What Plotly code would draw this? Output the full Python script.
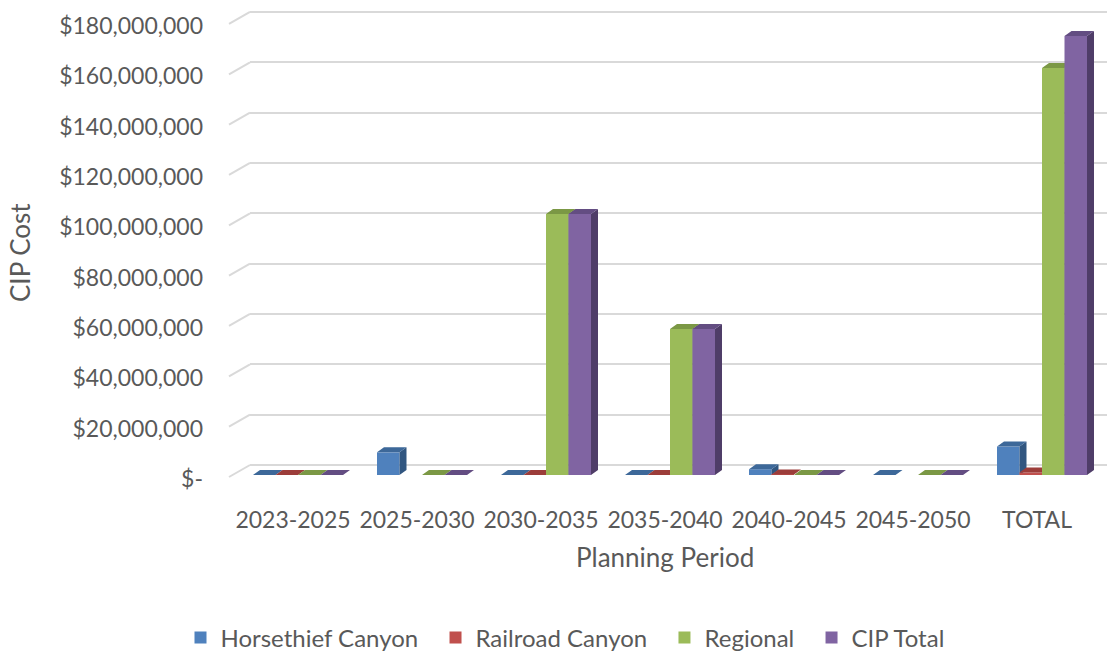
import plotly.graph_objects as go

# ---------------- data ----------------
categories = ["2023-2025", "2025-2030", "2030-2035", "2035-2040", "2040-2045", "2045-2050", "TOTAL"]
horsethief = [0, 9_000_000, 0, 0, 2_300_000, 0, 11_300_000]
railroad = [0, None, 0, 0, 200_000, None, 1_000_000]
regional = [0, 0, 103_700_000, 58_000_000, 0, 0, 161_700_000]
cip_total = [0, 0, 103_700_000, 58_000_000, 0, 0, 174_400_000]
series_names = ["Horsethief Canyon", "Railroad Canyon", "Regional", "CIP Total"]
y_ticks = [0, 20_000_000, 40_000_000, 60_000_000, 80_000_000, 100_000_000,
           120_000_000, 140_000_000, 160_000_000, 180_000_000]

# ---------------- styling / geometry ----------------
front_colors = ["#4F81BD", "#C0504D", "#9BBB59", "#8064A2"]
top_colors = ["#3D6899", "#9C3D3A", "#7B9845", "#634D82"]
side_colors = ["#315680", "#7F312F", "#647C37", "#4F3D68"]
text_color = "#595959"
grid_color = "#D9D9D9"
FONT = "Lato"

W, H = 1107, 653
L, R, T, B = 250, 0, 0, 153
plot_w = W - L - R
plot_h = H - T - B

px_per_cat = 124.0
first_cat_px = 293.0  # pixel center of first category label
x_range = [-(first_cat_px - L) / px_per_cat, (W - R - first_cat_px) / px_per_cat]

px_per_dollar = 2.517 / 1_000_000
bar_base_px = 475.0   # front of bars
grid_base_px = 465.0  # back wall
label_base_px = 479.0  # front labels


def rng(base_px):
    return [-(plot_h - base_px) / px_per_dollar, base_px / px_per_dollar]


bar_range = rng(bar_base_px)
grid_range = rng(grid_base_px)
label_range = rng(label_base_px)

bar_w = 22.5 / px_per_cat
group_shift = 5.0 / px_per_cat
dx = 7.0 / px_per_cat
dy = 5.0 / px_per_dollar

fig = go.Figure()

# empty traces so the grid axis and label axis exist as subplots
fig.add_trace(go.Scatter(x=[], y=[], xaxis="x", yaxis="y", showlegend=False, hoverinfo="skip"))
fig.add_trace(go.Scatter(x=[], y=[], xaxis="x", yaxis="y2", showlegend=False, hoverinfo="skip"))

all_series = [horsethief, railroad, regional, cip_total]
for j, vals in enumerate(all_series):
    yax = "y%d" % (j + 3)
    off = group_shift + (j - 2) * bar_w
    xs = list(range(len(categories)))
    legend_name = series_names[j] + ("\u00a0\u00a0" if j < len(all_series) - 1 else "")
    fig.add_trace(go.Bar(
        x=xs, y=vals, name=legend_name, width=bar_w, offset=off,
        marker=dict(color=front_colors[j], line=dict(width=0)),
        xaxis="x", yaxis=yax, showlegend=True,
    ))
    tx, ty, sx, sy = [], [], [], []
    for i, v in enumerate(vals):
        if v is None:
            continue
        x0 = i + off
        x1 = x0 + bar_w
        tx += [x0, x0 + dx, x1 + dx, x1, x0, None]
        ty += [v, v + dy, v + dy, v, v, None]
        sx += [x1, x1 + dx, x1 + dx, x1, x1, None]
        sy += [0, dy, v + dy, v, 0, None]
    fig.add_trace(go.Scatter(x=sx, y=sy, mode="lines", fill="toself", fillcolor=side_colors[j],
                             line=dict(width=0, color=side_colors[j]), xaxis="x", yaxis=yax,
                             showlegend=False, hoverinfo="skip"))
    fig.add_trace(go.Scatter(x=tx, y=ty, mode="lines", fill="toself", fillcolor=top_colors[j],
                             line=dict(width=0, color=top_colors[j]), xaxis="x", yaxis=yax,
                             showlegend=False, hoverinfo="skip"))

tick_text = ["$-" if v == 0 else "${:,.0f}".format(v) for v in y_ticks]

layout_axes = dict(
    xaxis=dict(range=x_range, tickmode="array", tickvals=list(range(len(categories))),
               ticktext=categories, showgrid=False, zeroline=False, showline=False, ticks="",
               tickfont=dict(family=FONT, size=23, color=text_color), fixedrange=True,
               ticklabelstandoff=4, automargin=False),
    yaxis=dict(range=grid_range, tickmode="array", tickvals=y_ticks, showgrid=True,
               gridcolor=grid_color, gridwidth=2, zeroline=False, showticklabels=False,
               showline=False, ticks="", automargin=False),
    yaxis2=dict(range=label_range, overlaying="y", tickmode="array", tickvals=y_ticks,
                ticktext=tick_text, showgrid=False, zeroline=False, showline=False, ticks="",
                tickfont=dict(family=FONT, size=23, color=text_color), ticklabelstandoff=46,
                automargin=False),
)
for j in range(4):
    layout_axes["yaxis%d" % (j + 3)] = dict(range=bar_range, overlaying="y", visible=False,
                                            showgrid=False, zeroline=False, automargin=False)

# diagonal connectors from front labels to back wall gridlines
shapes = []
x_front = (229 - L) / plot_w
shift_val = (grid_base_px - (label_base_px - 2)) / px_per_dollar  # negative
for v in y_ticks:
    shapes.append(dict(type="line", xref="paper", yref="y", x0=x_front, x1=0,
                       y0=v + shift_val, y1=v, line=dict(color=grid_color, width=2), layer="below"))

fig.update_layout(
    width=W, height=H,
    margin=dict(l=L, r=R, t=T, b=B, autoexpand=False),
    paper_bgcolor="white", plot_bgcolor="white",
    barmode="overlay",
    shapes=shapes,
    showlegend=True,
    legend=dict(orientation="h", xref="container", yref="container",
                x=565 / W, xanchor="center", y=1 - 638 / H, yanchor="middle",
                font=dict(family=FONT, size=24, color=text_color),
                traceorder="normal"),
    annotations=[
        dict(text="Planning Period", xref="paper", yref="paper",
             x=(665 - L) / plot_w, y=-(557 - plot_h) / plot_h, showarrow=False,
             xanchor="center", yanchor="middle",
             font=dict(family=FONT, size=26, color=text_color)),
        dict(text="CIP Cost", xref="paper", yref="paper",
             x=(20 - L) / plot_w, y=(plot_h - 253) / plot_h, showarrow=False,
             xanchor="center", yanchor="middle", textangle=-90,
             font=dict(family=FONT, size=26, color=text_color)),
    ],
    **layout_axes,
)

fig.write_html("out.html", post_script="document.body.style.margin='0';",
               config={"displayModeBar": False})
